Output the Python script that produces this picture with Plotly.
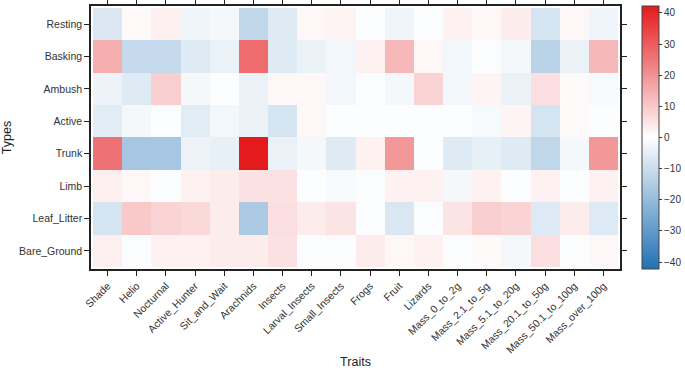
import plotly.graph_objects as go

traits = ["Shade", "Helio", "Nocturnal", "Active_Hunter", "Sit_and_Wait", "Arachnids",
          "Insects", "Larval_Insects", "Small_Insects", "Frogs", "Fruit", "Lizards",
          "Mass_0_to_2g", "Mass_2.1_to_5g", "Mass_5.1_to_20g", "Mass_20.1_to_50g",
          "Mass_50.1_to_100g", "Mass_over_100g"]
types = ["Resting", "Basking", "Ambush", "Active", "Trunk", "Limb", "Leaf_Litter", "Bare_Ground"]

resting     = [-7, 1, 3, -3, -2, -12, -6, 1.5, 2, -0.5, -3, -0.5, 2.5, 1.5, 3.5, -8, 1.5, -3]
basking     = [15, -11, -11, -6, -4, 27, -6, -4, -2.5, 2.5, 13, 1.5, -2.5, -1, -2, -13, -4, 13]
ambush      = [-3.5, -6, 9, -2, -0.5, -4, 1.5, 1.5, -2.5, -1, -2, 8, -2.5, 2, -4, 6, 1, -1.5]
active      = [-5.5, -2, -1, -5.5, -2.5, -4, -8, 1.5, -0.5, -0.5, -0.5, -0.5, -0.5, -1.5, 2, -8, 1, -0.5]
trunk       = [26, -17, -17, -3.5, -4.5, 42, -4, -2, -6, 2.5, 19, -0.5, -6, -4.5, -6, -12, -2, 19]
limb        = [3, 1.5, -0.5, 2.5, 3.5, 5.5, 5.5, -0.5, -1.5, -1, 2.5, 2.5, -2, 2.5, -0.5, 2.5, -0.5, 2.5]
leaf_litter = [-8, 10, 8, 7, 3.5, -16, 6, 3.5, 5, -1, -7, -1, 5, 9, 8, -6.5, 3.5, -6.5]
bare_ground = [3, -1, 2.5, 2.5, 3.5, 3.5, 5.5, -1, -1, 3.5, 1.5, 2.5, -1, 1, -2, 6, -1, 1.5]

z = [resting, basking, ambush, active, trunk, limb, leaf_litter, bare_ground]
cbar_ticks = [-40, -30, -20, -10, 0, 10, 20, 30, 40]

fig = go.Figure(go.Heatmap(
    z=z, x=traits, y=types,
    zmin=-42.2, zmax=42.2,
    colorscale=[[0, "#2171b5"], [0.5, "#ffffff"], [1, "#e41a1c"]],
    colorbar=dict(
        thickness=17, thicknessmode="pixels", len=1, lenmode="fraction",
        xref="container", x=0.9372, xanchor="left", y=0.5, yanchor="middle",
        xpad=0, ypad=0,
        outlinecolor="#444", outlinewidth=1,
        tickvals=cbar_ticks, ticks="outside", ticklen=3, tickcolor="#333",
        tickfont=dict(size=10, color="#333"),
    ),
))

axis_common = dict(
    showline=True, mirror="ticks", linecolor="#222", linewidth=1.5,
    ticks="outside", ticklen=5, tickcolor="#222", showgrid=False, zeroline=False,
    automargin=False,
)

fig.update_layout(
    width=685, height=371,
    margin=dict(l=91, r=65, t=6, b=102, autoexpand=False),
    paper_bgcolor="white", plot_bgcolor="white",
    font=dict(family="Liberation Sans, Arial, sans-serif", color="#222"),
    xaxis=dict(axis_common, tickangle=-45, range=[-0.57, 17.57],
               tickfont=dict(size=10.5, color="#333"),
               title=dict(text="Traits", font=dict(size=12.5), standoff=3)),
    yaxis=dict(axis_common, range=[7.56, -0.56],
               tickfont=dict(size=10.5, color="#333"),
               title=dict(text="Types", font=dict(size=12.5), standoff=12)),
)

fig.write_html("out.html", config={"displayModeBar": False},
               post_script="document.body.style.margin='0';")
